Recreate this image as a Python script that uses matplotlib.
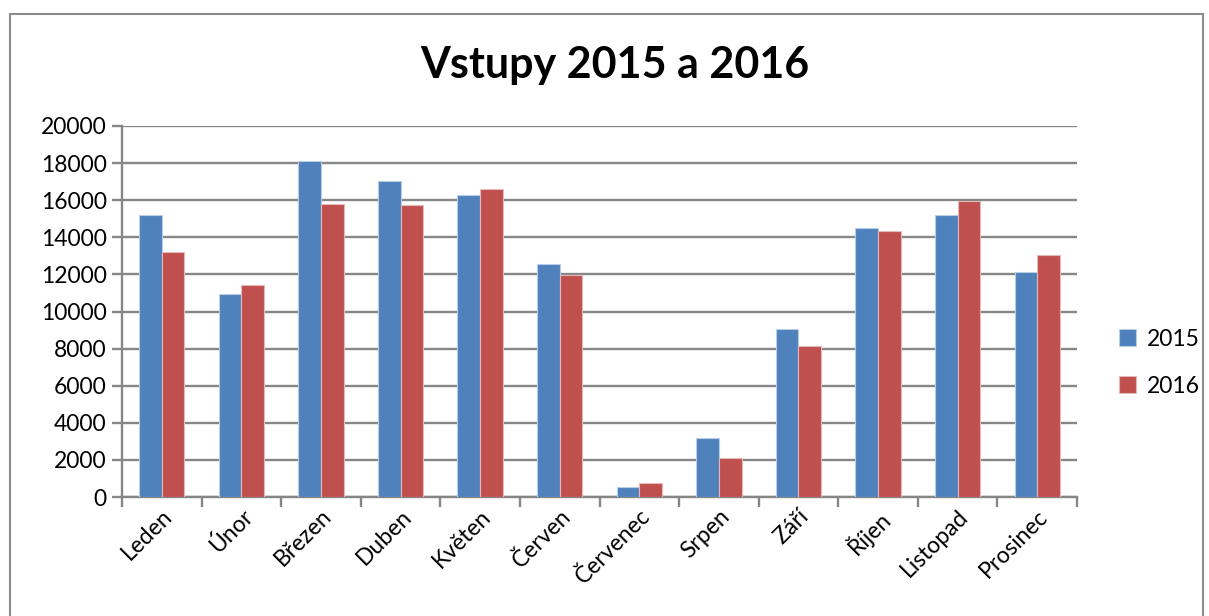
import matplotlib
matplotlib.use("Agg")
import matplotlib.pyplot as plt
from matplotlib.patches import Rectangle
import numpy as np

months = ["Leden", "Únor", "Březen", "Duben", "Květen", "Červen",
          "Červenec", "Srpen", "Září", "Říjen", "Listopad", "Prosinec"]
vals_2015 = [15200, 10950, 18100, 17030, 16290, 12580,
             560, 3190, 9080, 14490, 15210, 12150]
vals_2016 = [13220, 11440, 15800, 15730, 16580, 11980,
             780, 2110, 8130, 14360, 15980, 13060]
series_names = ["2015", "2016"]

plt.rcParams['font.family'] = ['Lato', 'DejaVu Sans']

W, H = 1209, 616
fig = plt.figure(figsize=(W / 100, H / 100), dpi=100)
ax = fig.add_axes([122 / W, 1 - 497 / H, (1077 - 122) / W, (497 - 126) / H])

# outer chart border
fig.patches.append(Rectangle((10 / W, -0.02), (1203 - 10) / W, 1.02 - 14 / H,
                             transform=fig.transFigure, fill=False,
                             edgecolor="#8c8c8c", linewidth=1.5))

x = np.arange(len(months))
bw = 0.285
ax.bar(x - bw / 2, vals_2015, bw, color="#4F81BD", edgecolor="#b9cde5",
       linewidth=0.8, label=series_names[0], zorder=3)
ax.bar(x + bw / 2, vals_2016, bw, color="#C0504D", edgecolor="#e6b9b8",
       linewidth=0.8, label=series_names[1], zorder=3)

ax.set_xlim(-0.5, len(months) - 0.5)
ax.set_ylim(0, 20000)
ax.set_yticks(range(0, 20001, 2000))
ax.yaxis.grid(True, color="#868686", linewidth=1.7, zorder=0)
ax.set_axisbelow(True)

ax.set_xticks(np.arange(-0.5, len(months), 1.0))
ax.set_xticklabels([])
ax.set_xticks(x, minor=True)
ax.set_xticklabels(months, minor=True, rotation=45, ha="right",
                   rotation_mode="anchor", fontsize=16.5)
ax.tick_params(axis="x", which="minor", length=0, pad=6)
ax.tick_params(axis="x", which="major", length=7, width=1.7, color="#868686")
ax.tick_params(axis="y", length=7, width=1.7, color="#868686", labelsize=16.5, pad=4)

for s in ["top", "right"]:
    ax.spines[s].set_visible(False)
for s in ["left", "bottom"]:
    ax.spines[s].set_color("#868686")
    ax.spines[s].set_linewidth(1.7)

fig.text(615 / W, 1 - 65 / H, "Vstupy 2015 a 2016", ha="center", va="center",
         fontsize=31, fontweight="bold")

ax.legend(loc="center left", bbox_to_anchor=(1.022, 0.362), frameon=False,
          fontsize=16.5, handlelength=0.75, handleheight=0.75, labelspacing=1.15,
          handletextpad=0.5)

fig.savefig("out.png", dpi=100)
